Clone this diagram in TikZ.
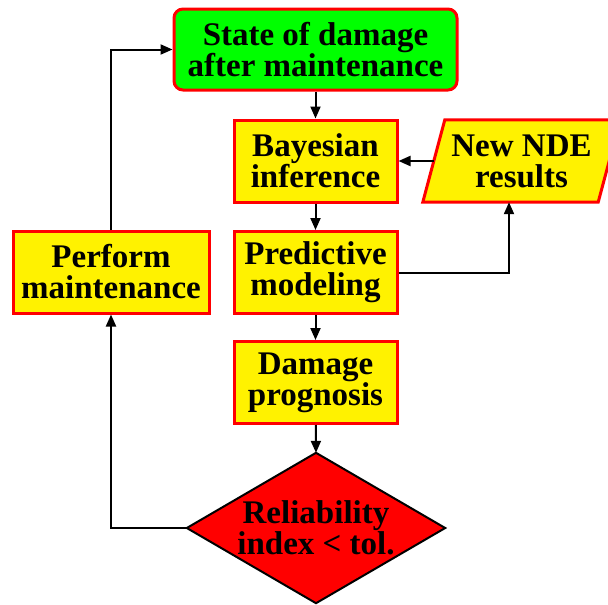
\documentclass[tikz,border=0pt]{standalone}
\usepackage{fontspec}
\setmainfont{Liberation Serif}
\usetikzlibrary{arrows.meta,shapes.geometric}
\begin{document}
\begin{tikzpicture}[x=1pt,y=-1pt,
  every node/.style={font=\bfseries\fontsize{33}{31}\selectfont, align=center, inner sep=0pt},
  procbox/.style={draw=red, line width=3pt, fill=yellow, minimum width=163pt, minimum height=82pt},
  link/.style={draw=black, line width=2pt, -{Triangle[length=12pt,width=10pt]}}
]
\useasboundingbox (0,0) rectangle (608,605);

% main column
\node[procbox, fill=green, rounded corners=9pt, minimum width=283pt, minimum height=81pt]
  (state) at (315.5,49.5) {State of damage\\after maintenance};
\node[procbox] (bayes) at (315.5,161) {Bayesian\\inference};
\node[procbox] (pred)  at (315.5,272.5) {Predictive\\modeling};
\node[procbox] (dmg)   at (315.5,382.5) {Damage\\prognosis};

% decision (diamond drawn on the anchors of a plain node)
\node[minimum width=258pt, minimum height=150pt] (rel) at (316,528) {};
\draw[black, line width=2pt, fill=red, line join=miter]
  (rel.north) -- (rel.east) -- (rel.south) -- (rel.west) -- cycle;
\node at (rel.center) {Reliability\\index < tol.};

% maintenance branch
\node[procbox, minimum width=196pt] (perf) at (111,272) {Perform\\maintenance};

% data input (parallelogram around a plain node)
\node[minimum width=175pt, minimum height=82pt] (nde) at (521.5,161) {};
\draw[red, line width=3pt, fill=yellow, line join=miter]
  ([xshift=-11pt]nde.south west) -- ([xshift=11pt]nde.north west)
  -- ([xshift=11pt]nde.north east) -- ([xshift=-11pt]nde.south east) -- cycle;
\node at (nde.center) {New NDE\\results};

% connectors
\draw[link] (state) -- (bayes);
\draw[link] (bayes) -- (pred);
\draw[link] (pred) -- (dmg);
\draw[link] (dmg) -- (rel.north);
\draw[link] (nde.west) -- (bayes.east);
\draw[link] (pred.east) -| ([xshift=-12.5pt]nde.south);
\draw[link] (rel.west) -| (perf.south);
\draw[link] (perf.north) |- (state.west);
\end{tikzpicture}
\end{document}
